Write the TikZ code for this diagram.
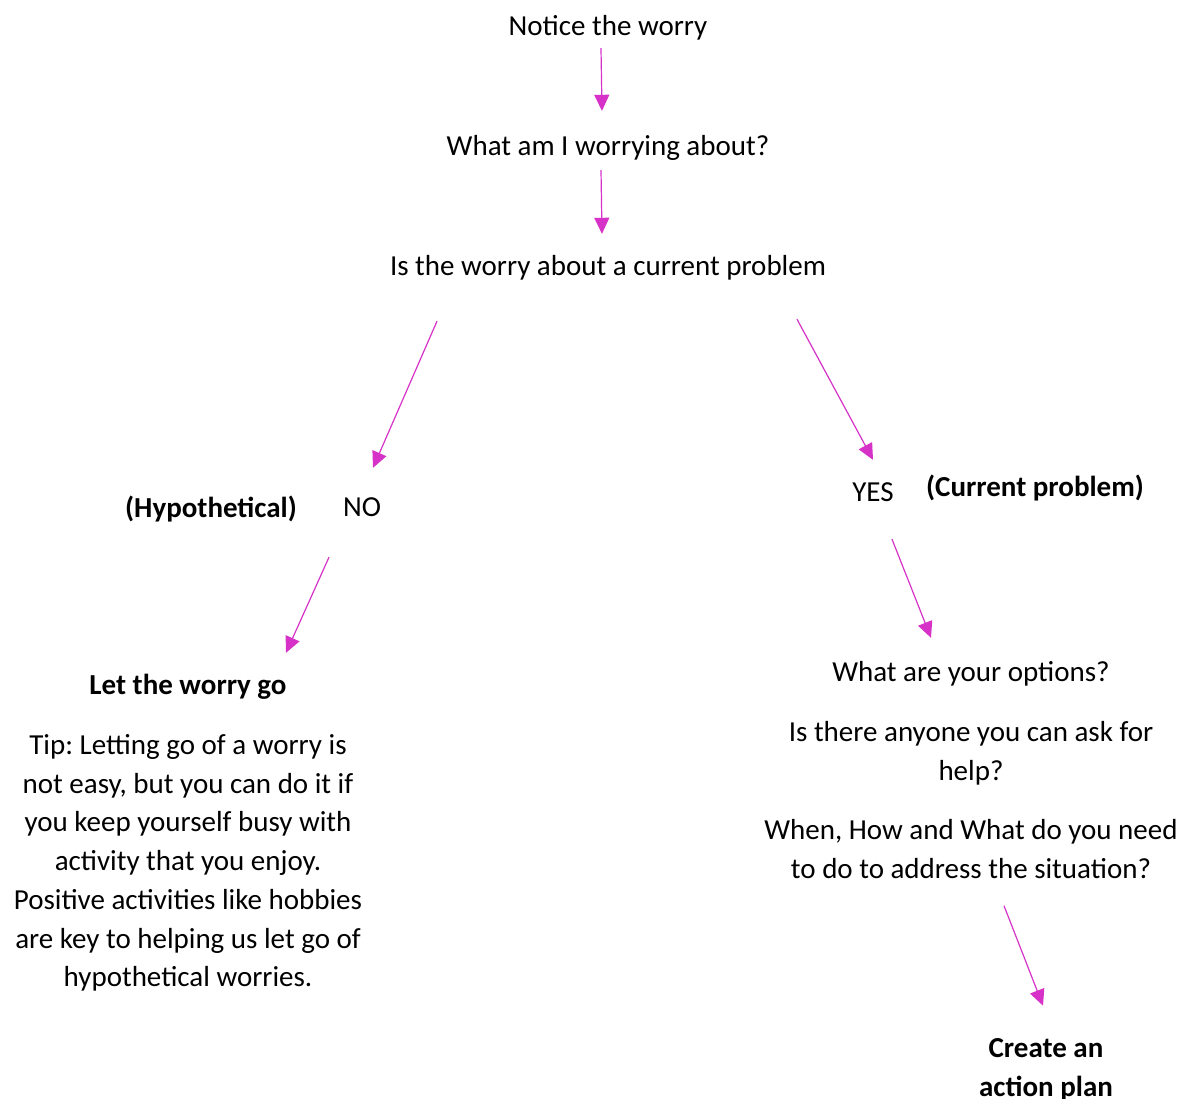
\documentclass[tikz,border=0pt]{standalone}
\usepackage{fontspec}
\setmainfont{Carlito}
\usetikzlibrary{arrows.meta}
\definecolor{flowpink}{RGB}{214,50,200}
\frenchspacing

\begin{document}
\begin{tikzpicture}[x=1pt,y=-1pt,>={Triangle[length=16pt,width=15pt]},
        flow/.style={->,draw=flowpink,line width=1.2pt},
        main node/.style={inner sep=0pt,font=\fontsize{29}{38.7}\selectfont,text height=20pt,text depth=6pt},
        bold node/.style={main node,font=\fontsize{29}{38.7}\selectfont\bfseries},
        para node/.style={inner sep=0pt,font=\fontsize{29}{38.7}\selectfont,align=center}]

        \useasboundingbox (0,0) rectangle (1184,1099);

        \node[main node] (1) at (608,29) {Notice the worry};
        \node[main node] (2) at (608,149) {What am I worrying about?};
        \node[main node] (3) at (608,269) {Is the worry about a current problem};
        \node[bold node] (4) at (211,510) {(Hypothetical)};
        \node[main node] (5) at (362,509) {NO};
        \node[main node] (6) at (873,494) {YES};
        \node[bold node] (7) at (1035,489) {(Current problem)};
        \node[bold node] (8) at (188,687) {Let the worry go};
        \node[para node] (9) at (188,863) {Tip: Letting go of a worry is\\not easy, but you can do it if\\you keep yourself busy with\\activity that you enjoy.\\Positive activities like hobbies\\are key to helping us let go of\\hypothetical worries.};
        \node[main node] (10) at (971,674) {What are your options?};
        \node[para node] (11) at (971,753.5) {Is there anyone you can ask for\\help?};
        \node[para node] (12) at (971,849) {When, How and What do you need\\to do to address the situation?};
        \node[para node,font=\fontsize{29}{38.7}\selectfont\bfseries] (13) at (1046,1070) {Create an\\action plan};

        \draw[flow] ([shift={(-7,6)}]1.south) -- ([shift={(-6,-25)}]2.north);
        \draw[flow] ([shift={(-7,8)}]2.south) -- ([shift={(-6,-22)}]3.north);
        \draw[flow] ([shift={(-171,39)}]3.south) -- ([shift={(11,-28)}]5.north);
        \draw[flow] ([shift={(189,37)}]3.south) -- ([shift={(0,-21)}]6.north);
        \draw[flow] ([shift={(-33,35)}]5.south) -- ([shift={(98,-21)}]8.north);
        \draw[flow] ([shift={(19,32)}]6.south) -- ([shift={(-40,-23)}]10.north);
        \draw[flow] ([shift={(33,27)}]12.south) -- ([shift={(-3,-33)}]13.north);
      \end{tikzpicture}
\end{document}
